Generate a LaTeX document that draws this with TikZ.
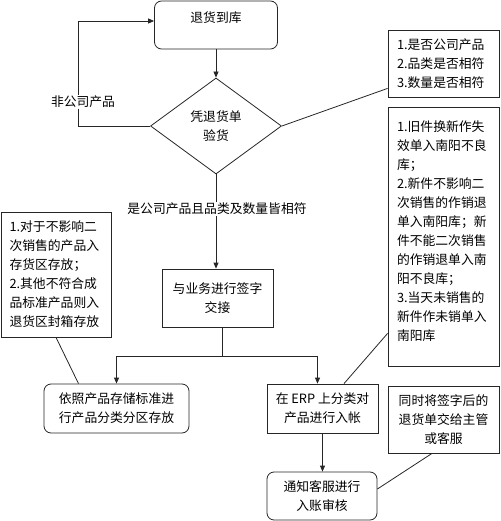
\documentclass[tikz,border=0pt]{standalone}
\usepackage{fontspec}
\newfontfamily\cjk{Noto Sans CJK SC}
\usetikzlibrary{shapes.geometric,arrows.meta}

\begin{document}
\begin{tikzpicture}[x=1pt,y=-1pt,
        font=\cjk\fontsize{12.8}{19}\selectfont,
        line/.style={draw=black!85, line width=0.8pt},
        arr/.style={line, -{Triangle[length=6pt,width=5pt]}},
        rbox/.style={line, rounded corners=7pt, inner sep=0pt, align=center},
        sbox/.style={line, inner sep=0pt, align=center},
        notebox/.style={line, inner sep=0pt, text width=93pt, align=left},
        lbl/.style={fill=white, inner sep=1pt}]
        \useasboundingbox (0,0) rectangle (500,521);

        % Draw the return and the check
        \node[rbox, minimum width=123pt, minimum height=48pt,
            label={[yshift=7pt]center:退货到库}] (ku) at (216,25) {};
        \node[diamond, line, minimum width=131pt, minimum height=96pt,
            inner sep=0pt, align=center] (yan) at (216,126) {凭退货单\\验货};
        \draw[arr] (ku.south) -- (yan.north);
        \draw[arr] (yan.west) -- (78,126) |- ([yshift=4pt]ku.west);
        \node[lbl] (fei) at (83,102) {非公司产品};

        % Draw the notes on the right
        \node[notebox, minimum width=111pt, minimum height=67pt] (check) at (443.5,63.5)
            {1.是否公司产品\\2.品类是否相符\\3.数量是否相符};
        \draw[line] (yan.east) -- ([yshift=9pt]check.south west);
        \node[notebox, minimum width=111pt, minimum height=259pt] (rule) at (443.5,236.5)
            {1.旧件换新作失\\效单入南阳不良\\库；\\2.新件不影响二\\次销售的作销退\\单入南阳库；新\\件不能二次销售\\的作销退单入南\\阳不良库；\\3.当天未销售的\\新件作未销单入\\南阳库\\[-7pt]\mbox{}};
        \node[notebox, minimum width=110pt, minimum height=125pt] (note) at (56,274.5)
            {1.对于不影响二\\次销售的产品入\\存货区存放；\\2.其他不符合成\\品标准产品则入\\退货区封箱存放};

        % Draw the sign-off and the split
        \node[sbox, minimum width=111pt, minimum height=58pt] (sign) at (217.5,298)
            {与业务进行签字\\交接};
        \draw[arr] (yan.south) -- (yan.south |- sign.north);
        \node[lbl] (fu) at (217,209) {是公司产品且品类及数量皆相符};
        \draw[line] ([xshift=5pt]sign.south) -- ++(0,29) coordinate (fen);

        % Draw the storage and the entry
        \node[rbox, minimum width=145pt, minimum height=49pt] (store) at (116.5,408.5)
            {依照产品存储标准进\\行产品分类分区存放};
        \node[sbox, minimum width=111pt, minimum height=49pt] (erp) at (322.5,408.5)
            {在 ERP 上分类对\\产品进行入帐};
        \node[rbox, minimum width=110pt, minimum height=48pt] (notify) at (322,496)
            {通知客服进行\\入账审核};
        \node[sbox, minimum width=111pt, minimum height=67pt] (hand) at (443.5,419.5)
            {同时将签字后的\\退货单交给主管\\或客服};
        \draw[arr] (fen) -| (store.north);
        \draw[arr] (fen) -| ([xshift=-5pt]erp.north);
        \draw[arr] (erp.south) -- (erp.south |- notify.north);

        % Draw the note links
        \draw[line] (note.south) -- ([xshift=-38pt]store.north);
        \draw[line] ([yshift=33pt]rule.south west) -- ([xshift=21.5pt]erp.north);
        \draw[line] ([xshift=-11.5pt]hand.south) -- ([yshift=7pt]notify.east);
    \end{tikzpicture}
\end{document}
